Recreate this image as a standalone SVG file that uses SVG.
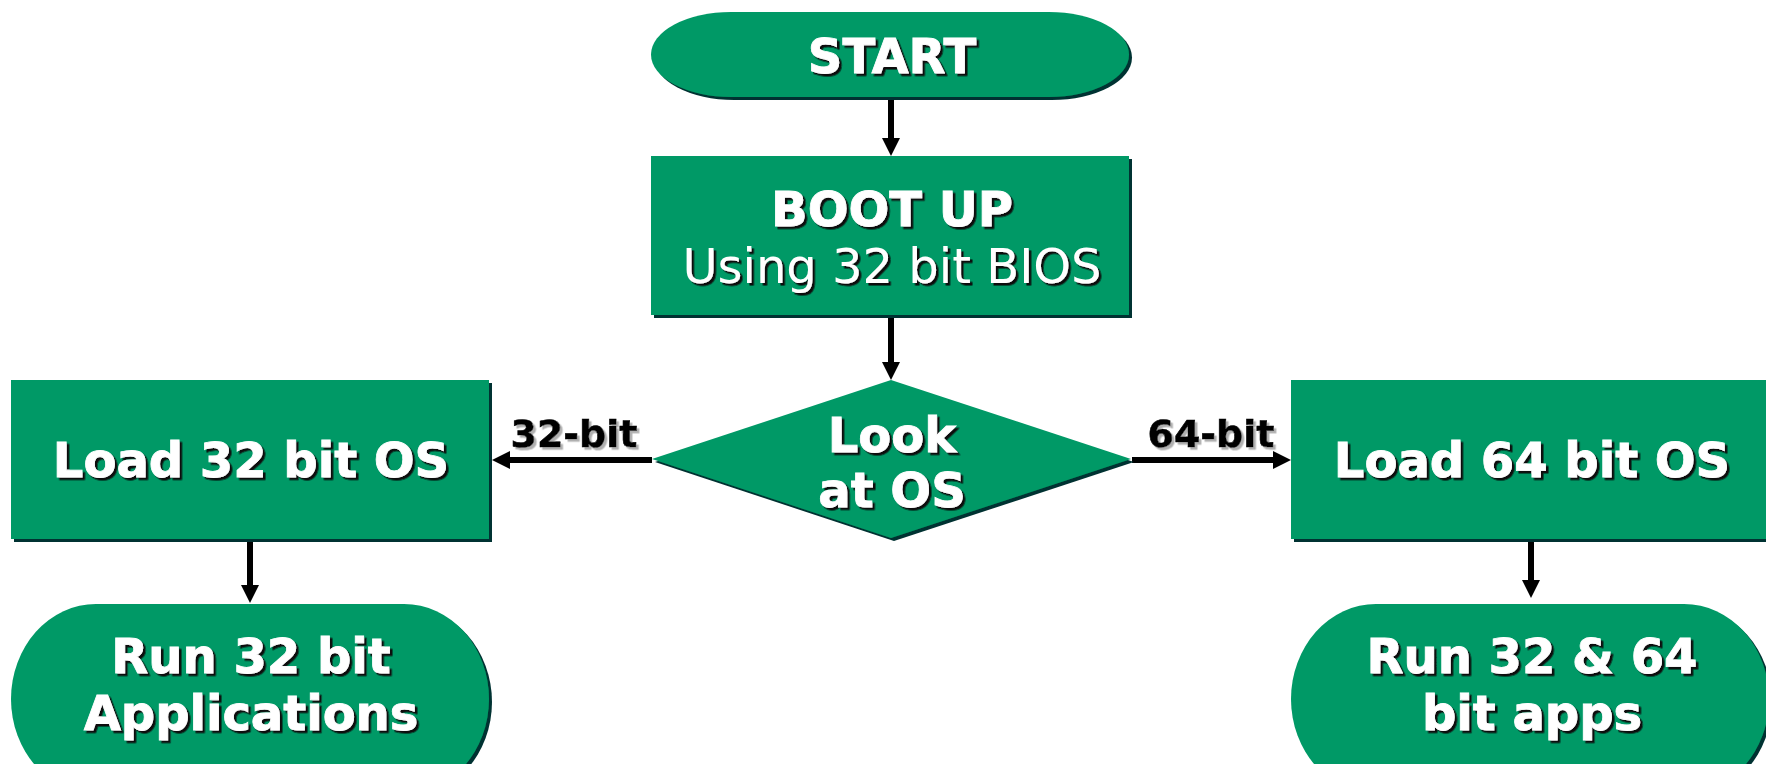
<svg xmlns="http://www.w3.org/2000/svg" width="1766" height="764" viewBox="0 0 1766 764">
  <defs>
    <style>
      .shape{fill:#009966;filter:url(#shapeShadow)}
      .t{font-family:"DejaVu Sans",Verdana,sans-serif;font-weight:bold;font-size:48px;fill:#ffffff;stroke:#ffffff;stroke-width:0.8;text-anchor:middle;filter:url(#textShadow)}
      .reg{font-weight:normal;font-size:48px;stroke-width:0}
      .lbl{font-family:"DejaVu Sans",Verdana,sans-serif;font-weight:bold;font-size:38px;fill:#000000;stroke:#000000;stroke-width:0.6;text-anchor:middle;filter:url(#labelShadow)}
      .conn{stroke:#000000;stroke-width:6;fill:none;marker-end:url(#arrow)}
    </style>
    <filter id="shapeShadow" x="-5%" y="-5%" width="110%" height="115%">
      <feDropShadow dx="3" dy="3" stdDeviation="0" flood-color="#003333"/>
    </filter>
    <filter id="textShadow" x="-5%" y="-10%" width="110%" height="130%">
      <feDropShadow dx="2.5" dy="2.5" stdDeviation="0" flood-color="#111111"/>
    </filter>
    <filter id="labelShadow" x="-5%" y="-10%" width="110%" height="130%">
      <feDropShadow dx="2.5" dy="2.5" stdDeviation="0" flood-color="#b0b0b0"/>
    </filter>
    <marker id="arrow" markerUnits="userSpaceOnUse" viewBox="0 0 18 18" markerWidth="18" markerHeight="18" refX="2" refY="9" orient="auto">
      <path d="M0,0 L18,9 L0,18 Z" fill="#000000"/>
    </marker>
  </defs>

  <!-- connectors -->
  <g id="connectors">
    <path class="conn" d="M891,99 L891,140"/>
    <path class="conn" d="M891,318 L891,364"/>
    <path class="conn" d="M652,460 L508,460"/>
    <path class="conn" d="M1132,460 L1275,460"/>
    <path class="conn" d="M250,542 L250,587"/>
    <path class="conn" d="M1531,542 L1531,582"/>
    <text class="lbl" x="574" y="447">32-bit</text>
    <text class="lbl" x="1211" y="447">64-bit</text>
  </g>

  <g id="start">
    <rect class="shape" x="651" y="12" width="478" height="85" rx="80" ry="42.5"/>
    <text class="t" x="892" y="73">START</text>
  </g>

  <g id="bootup">
    <rect class="shape" x="651" y="156" width="478" height="159"/>
    <text class="t" x="892" y="226">BOOT UP</text>
    <text class="t reg" x="892" y="283">Using 32 bit BIOS</text>
  </g>

  <g id="lookatos">
    <polygon class="shape" points="891,380 1131,459 891,538 652,459"/>
    <text class="t" x="892" y="452">Look</text>
    <text class="t" x="892" y="507">at OS</text>
  </g>

  <g id="load32">
    <rect class="shape" x="11" y="380" width="478" height="159"/>
    <text class="t" x="251" y="477">Load 32 bit OS</text>
  </g>

  <g id="load64">
    <rect class="shape" x="1291" y="380" width="478" height="159"/>
    <text class="t" x="1532" y="477">Load 64 bit OS</text>
  </g>

  <g id="run32">
    <rect class="shape" x="11" y="604" width="478" height="190" rx="85" ry="95"/>
    <text class="t" x="251" y="673">Run 32 bit</text>
    <text class="t" x="251" y="730">Applications</text>
  </g>

  <g id="run64">
    <rect class="shape" x="1291" y="604" width="478" height="190" rx="85" ry="95"/>
    <text class="t" x="1532" y="673">Run 32 &amp; 64</text>
    <text class="t" x="1532" y="730">bit apps</text>
  </g>
</svg>
